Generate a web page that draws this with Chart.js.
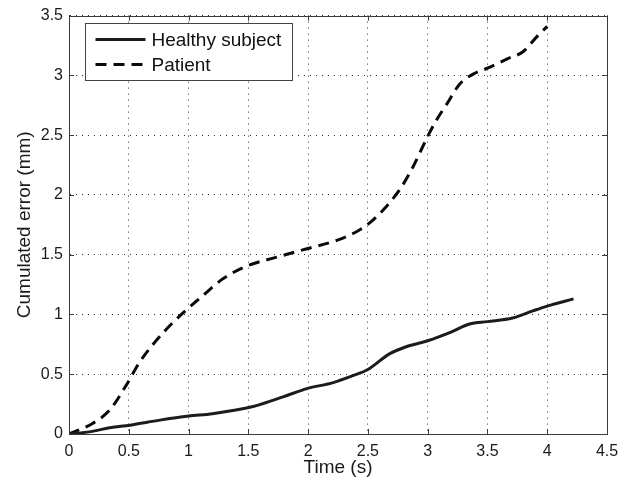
<!DOCTYPE html>
<html>
<head>
<meta charset="utf-8">
<script src="https://cdn.jsdelivr.net/npm/chart.js@4.4.1/dist/chart.umd.min.js"></script>
<style>
  html, body { margin: 0; padding: 0; background: #fff; }
  #wrap { width: 631px; height: 483px; }
</style>
</head>
<body>
<div id="wrap"><canvas id="myChart" width="631" height="483"></canvas></div>
<script>
// data
const healthyTime = [0, 0.18, 0.34, 0.51, 0.76, 1.0, 1.2, 1.54, 1.79, 1.99, 2.21, 2.38, 2.5, 2.68, 2.82, 3.0, 3.19, 3.35, 3.5, 3.71, 3.88, 4.0, 4.22];
const healthyError = [0, 0.02, 0.052, 0.074, 0.116, 0.15, 0.17, 0.23, 0.31, 0.38, 0.43, 0.49, 0.54, 0.67, 0.73, 0.78, 0.85, 0.92, 0.94, 0.97, 1.03, 1.07, 1.13];

const patientTime = [0, 0.2, 0.34, 0.48, 0.59, 0.79, 0.94, 1.1, 1.29, 1.5, 1.74, 1.99, 2.24, 2.4, 2.52, 2.66, 2.77, 2.88, 3.0, 3.07, 3.16, 3.27, 3.38, 3.5, 3.67, 3.8, 3.91, 4.0];
const patientError = [0, 0.09, 0.2, 0.41, 0.6, 0.85, 1.0, 1.14, 1.3, 1.41, 1.48, 1.55, 1.62, 1.69, 1.77, 1.91, 2.05, 2.24, 2.49, 2.62, 2.76, 2.93, 3.01, 3.06, 3.14, 3.2, 3.32, 3.41];

const xTickLabels = ['0', '0.5', '1', '1.5', '2', '2.5', '3', '3.5', '4', '4.5'];
const yTickLabels = ['0', '0.5', '1', '1.5', '2', '2.5', '3', '3.5'];

const seriesNames = ['Healthy subject', 'Patient'];

const FONT = '"Liberation Sans", Arial, Helvetica, sans-serif';

function toPoints(xs, ys) {
  return xs.map((x, i) => ({ x: x, y: ys[i] }));
}

// box round the plot, inward ticks on all four sides, legend in the corner
const matlabFrame = {
  id: 'matlabFrame',
  afterDraw(chart) {
    const ctx = chart.ctx;
    const a = chart.chartArea;
    const xs = chart.scales.x;
    const ys = chart.scales.y;
    const tl = 5;
    ctx.save();
    ctx.strokeStyle = '#3a3a3a';
    ctx.lineWidth = 1;
    ctx.setLineDash([]);
    ctx.strokeRect(Math.round(a.left) + 0.5, Math.round(a.top) + 0.5,
      Math.round(a.right - a.left), Math.round(a.bottom - a.top));
    ctx.beginPath();
    xs.ticks.forEach(t => {
      const px = Math.round(xs.getPixelForValue(t.value)) + 0.5;
      ctx.moveTo(px, a.bottom); ctx.lineTo(px, a.bottom - tl);
      ctx.moveTo(px, a.top); ctx.lineTo(px, a.top + tl);
    });
    ys.ticks.forEach(t => {
      const py = Math.round(ys.getPixelForValue(t.value)) + 0.5;
      ctx.moveTo(a.left, py); ctx.lineTo(a.left + tl, py);
      ctx.moveTo(a.right, py); ctx.lineTo(a.right - tl, py);
    });
    ctx.stroke();

    // legend
    const bx = 85.5, by = 23.5, bw = 207, bh = 57;
    ctx.fillStyle = '#fff';
    ctx.fillRect(bx, by, bw, bh);
    ctx.strokeStyle = '#444';
    ctx.strokeRect(bx, by, bw, bh);
    ctx.font = '19px ' + FONT;
    ctx.textBaseline = 'middle';
    ctx.textAlign = 'left';
    chart.data.datasets.forEach((ds, i) => {
      const cy = by + 16 + i * 25;
      ctx.strokeStyle = ds.borderColor;
      ctx.lineWidth = ds.borderWidth;
      ctx.setLineDash(ds.borderDash || []);
      ctx.beginPath();
      ctx.moveTo(bx + 10, cy);
      ctx.lineTo(bx + 60, cy);
      ctx.stroke();
      ctx.setLineDash([]);
      ctx.fillStyle = '#111';
      ctx.fillText(ds.label, bx + 66, cy + 1);
    });
    ctx.restore();
  }
};

const data = {
  datasets: [
    {
      label: seriesNames[0],
      data: toPoints(healthyTime, healthyError),
      borderColor: '#1c1c1c',
      borderWidth: 3,
      pointRadius: 0,
      cubicInterpolationMode: 'monotone',
      fill: false
    },
    {
      label: seriesNames[1],
      data: toPoints(patientTime, patientError),
      borderColor: '#0a0a0a',
      borderWidth: 3,
      borderDash: [11, 7],
      pointRadius: 0,
      cubicInterpolationMode: 'monotone',
      fill: false
    }
  ]
};

const config = {
  type: 'line',
  data,
  options: {
    responsive: false,
    animation: false,
    devicePixelRatio: 1,
    layout: { padding: { top: 11, right: 24, left: 0, bottom: 0 } },
    plugins: {
      legend: { display: false },
      tooltip: { enabled: false }
    },
    scales: {
      x: {
        type: 'linear',
        min: 0,
        max: 4.5,
        afterFit(scale) { scale.height = 49; },
        ticks: {
          stepSize: 0.5,
          padding: 8,
          color: '#1a1a1a',
          font: { family: FONT, size: 16 },
          maxRotation: 0,
          callback: (v, i) => xTickLabels[i]
        },
        grid: { color: '#333', lineWidth: 1, drawTicks: false },
        border: { display: true, color: '#3a3a3a', dash: [1, 5] },
        title: {
          display: true,
          text: 'Time (s)',
          color: '#1a1a1a',
          font: { family: FONT, size: 19 },
          padding: { top: 0, bottom: 4 }
        }
      },
      y: {
        type: 'linear',
        min: 0,
        max: 3.5,
        afterFit(scale) { scale.width = 69; },
        ticks: {
          stepSize: 0.5,
          padding: 6,
          color: '#1a1a1a',
          font: { family: FONT, size: 16 },
          callback: (v, i) => yTickLabels[i]
        },
        grid: { color: '#333', lineWidth: 1, drawTicks: false },
        border: { display: true, color: '#3a3a3a', dash: [1, 5] },
        title: {
          display: true,
          text: 'Cumulated error (mm)',
          color: '#1a1a1a',
          font: { family: FONT, size: 19 },
          padding: { top: 13, bottom: 0 }
        }
      }
    }
  },
  plugins: [matlabFrame]
};

const myChart = new Chart(document.getElementById('myChart'), config);
</script>
</body>
</html>
